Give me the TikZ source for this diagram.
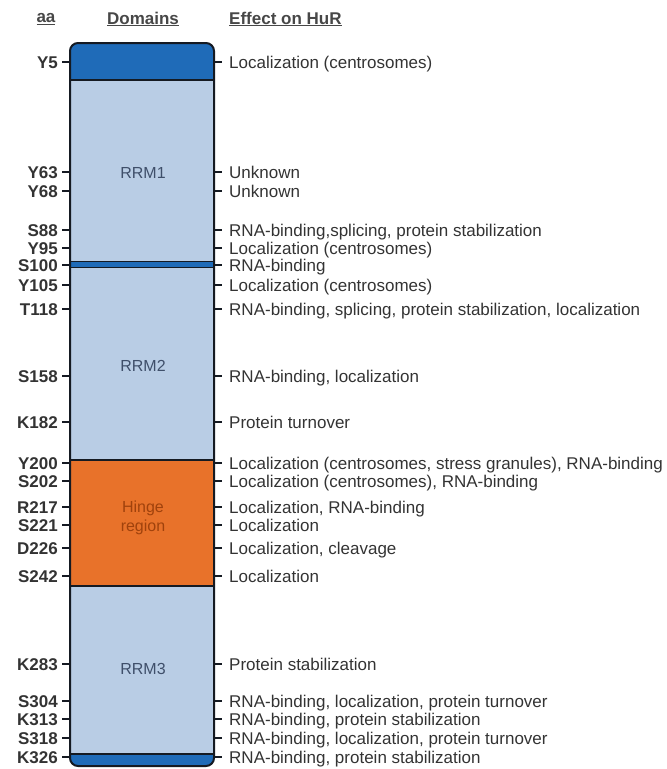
\documentclass[tikz,border=0pt]{standalone}
\usepackage{fontspec}
\setmainfont{Liberation Sans}
\definecolor{dkblue}{HTML}{1F6BB8}
\definecolor{ltblue}{HTML}{B9CDE5}
\definecolor{hingeor}{HTML}{E8722A}
\definecolor{txt}{HTML}{333333}
\definecolor{rrmtxt}{HTML}{3F4F6A}
\definecolor{hingetxt}{HTML}{A0420C}
\definecolor{edge}{HTML}{151A22}
\begin{document}
\begin{tikzpicture}[x=1pt,y=-1pt,
  every node/.style={inner sep=0pt, text=txt},
  base/.style={font=\fontsize{17}{20}\selectfont, text height=12.2pt, text depth=0pt},
  aalab/.style={base, font=\fontsize{17}{20}\selectfont\bfseries, anchor=east},
  efflab/.style={base, anchor=west},
  hdr/.style={font=\fontsize{17}{20}\selectfont\bfseries, text=txt!90!white},
  dom/.style={font=\fontsize{16}{19}\selectfont, align=center},
  tick/.style={line width=2pt, draw=edge},
  sep/.style={line width=1.6pt, draw=edge}]
\useasboundingbox (0,0) rectangle (667,769);
% headers
\node[hdr] (haa) at (46,19) {\underline{aa}};
\node[hdr] (hdom) at (143,19) {\underline{Domains}};
\node[hdr, anchor=west] (heff) at (229,19) {\underline{Effect on HuR}};
% domain bar
\fill[dkblue, rounded corners=8pt] (70,43) rectangle (214,766);
\fill[ltblue] (70,80) rectangle (214,754);
\fill[hingeor] (70,460) rectangle (214,586);
\fill[dkblue] (70,261.5) rectangle (214,267.5);
\draw[sep] (70,80) -- (214,80);
\draw[sep] (70,754) -- (214,754);
\draw[sep] (70,460) -- (214,460);
\draw[sep] (70,586) -- (214,586);
\draw[sep, line width=1.2pt] (70,261.5) -- (214,261.5);
\draw[sep, line width=1.2pt] (70,267.5) -- (214,267.5);
\draw[line width=2pt, draw=edge, rounded corners=8pt] (70,43) rectangle (214,766);
% domain names
\node[dom, text=rrmtxt] (rrm1) at (143,173) {RRM1};
\node[dom, text=rrmtxt] (rrm2) at (143,366) {RRM2};
\node[dom, text=hingetxt] (hinge) at (143,518) {Hinge\\region};
\node[dom, text=rrmtxt] (rrm3) at (143,669) {RRM3};
% rows
\foreach \n/\yy/\aa/\eff in {
  1/62/Y5/Localization (centrosomes),
  2/172/Y63/Unknown,
  3/191/Y68/Unknown,
  4/230/S88/{RNA-binding,splicing, protein stabilization},
  5/248/Y95/Localization (centrosomes),
  6/265/S100/RNA-binding,
  7/285/Y105/Localization (centrosomes),
  8/309/T118/{RNA-binding, splicing, protein stabilization, localization},
  9/376/S158/{RNA-binding, localization},
  10/422/K182/Protein turnover,
  11/463/Y200/{Localization (centrosomes, stress granules), RNA-binding},
  12/481/S202/{Localization (centrosomes), RNA-binding},
  13/507/R217/{Localization, RNA-binding},
  14/525/S221/Localization,
  15/548/D226/{Localization, cleavage},
  16/576/S242/Localization,
  17/664/K283/Protein stabilization,
  18/701/S304/{RNA-binding, localization, protein turnover},
  19/719/K313/{RNA-binding, protein stabilization},
  20/738/S318/{RNA-binding, localization, protein turnover},
  21/757/K326/{RNA-binding, protein stabilization}}{
  \coordinate (l\n a) at (62,\yy);
  \coordinate (l\n b) at (70,\yy);
  \coordinate (r\n a) at (214,\yy);
  \coordinate (r\n b) at (222,\yy);
  \draw[tick] (l\n a) -- (l\n b);
  \draw[tick] (r\n a) -- (r\n b);
  \node[aalab] (aa\n) at (58,\yy) {\aa};
  \node[efflab] (eff\n) at (229,\yy) {\eff};
}
\end{tikzpicture}
\end{document}
